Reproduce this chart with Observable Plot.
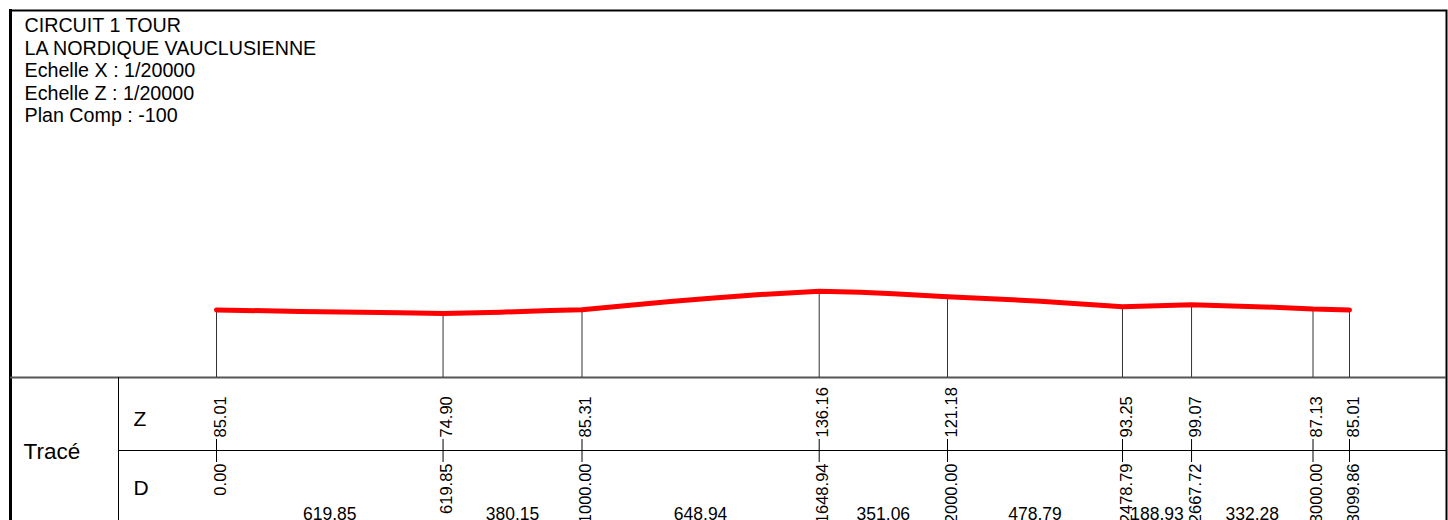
<!DOCTYPE html>
<html><head><meta charset="utf-8">
<script src="https://cdn.jsdelivr.net/npm/d3@7"></script>
<script src="https://cdn.jsdelivr.net/npm/@observablehq/plot@0.6"></script>
<style>html,body{margin:0;padding:0;background:#fff} svg{display:block}</style>
</head><body><div id="chart"></div>
<script>
// ---- data ----
const titleLines = ["CIRCUIT 1 TOUR", "LA NORDIQUE VAUCLUSIENNE", "Echelle X : 1/20000", "Echelle Z : 1/20000", "Plan Comp : -100"];
const planComp = -100;
const rowLabels = ["Z", "D"];
const groupLabel = "Tracé";
const stationD = [0, 619.85, 1000, 1648.94, 2000, 2478.79, 2667.72, 3000, 3099.86];
const stationZ = [85.01, 74.90, 85.31, 136.16, 121.18, 93.25, 99.07, 87.13, 85.01];
const stationDLabels = ["0.00", "619.85", "1000.00", "1648.94", "2000.00", "2478.79", "2667.72", "3000.00", "3099.86"];
const stationZLabels = ["85.01", "74.90", "85.31", "136.16", "121.18", "93.25", "99.07", "87.13", "85.01"];
const segmentLabels = ["619.85", "380.15", "648.94", "351.06", "478.79", "188.93", "332.28"];
// vertices of the red profile line (distance, altitude)
const profileD = [0, 230, 503, 619.85, 777, 914, 1000, 1124, 1242, 1352, 1488, 1648.94, 1762, 1852, 2000, 2254, 2478.79, 2667.72, 2892, 3000, 3099.86];
const profileZ = [85.01, 80.5, 77.0, 74.90, 78.7, 83.3, 85.31, 97.0, 107.9, 117.0, 127.1, 136.16, 133.4, 129.0, 121.18, 108.8, 93.25, 99.07, 92.3, 87.13, 85.01];

// ---- tables built from the arrays ----
const stations = stationD.map((d, i) => ({d, z: stationZ[i], zl: stationZLabels[i], dl: stationDLabels[i]}));
const profile = profileD.map((d, i) => ({d, z: profileZ[i]}));
const segments = segmentLabels.map((label, i) => ({mid: (stationD[i] + stationD[i + 1]) / 2, label}));

// ---- layout ----
const W = 1448, H = 520;
const xRange = [216, 1349];
const datumY = 377;                       // pixel row of the comparison plane
const kx = (xRange[1] - xRange[0]) / (stationD[stationD.length - 1] - stationD[0]);
const font = "Arial, 'Liberation Sans', Helvetica, sans-serif";

const chart = Plot.plot({
  width: W, height: H, margin: 0,
  x: {domain: [stationD[0], stationD[stationD.length - 1]], range: xRange, axis: null},
  y: {domain: [planComp, planComp + datumY / kx], range: [datumY, 0], axis: null},   // same scale as X (1/20000)
  style: {fontFamily: font, background: "#fff", color: "#000"},
  marks: [
    // outer frame
    Plot.frame({insetLeft: 10, insetTop: 10, insetRight: 2, insetBottom: -10, stroke: "#000", strokeWidth: 2}),
    Plot.ruleX([stationD[0]], {dx: 10 - xRange[0], stroke: "#000", strokeWidth: 3, insetTop: 9}),
    // title block
    Plot.text([titleLines.join("\n")], {frameAnchor: "top-left", dx: 24, dy: 16, lineAnchor: "top",
      textAnchor: "start", lineHeight: 1.14, fontSize: 19.7, fill: "#000"}),
    // comparison plane / table top
    Plot.ruleY([planComp], {insetLeft: 10, insetRight: 2, stroke: "#555", strokeWidth: 2}),
    // Z / D separator
    Plot.ruleY([planComp], {dy: 73, insetLeft: 118, insetRight: 2, stroke: "#000", strokeWidth: 1}),
    // column separator of the table
    Plot.ruleX([stationD[0]], {dx: 118 - xRange[0], insetTop: datumY, stroke: "#000", strokeWidth: 1}),
    // station verticals from the profile to the plane
    Plot.ruleX(stations, {x: "d", y1: "z", y2: () => planComp, stroke: "#333", strokeWidth: 1}),
    // profile line
    Plot.line(profile, {x: "d", y: "z", stroke: "#ff0000", strokeWidth: 5, strokeLinejoin: "round"}),
    // small station ticks between the Z and D labels
    Plot.ruleX(stations, {x: "d", insetTop: 439, insetBottom: H - 462, stroke: "#000", strokeWidth: 1}),
    // row labels
    Plot.text([groupLabel], {frameAnchor: "top-left", dx: 23, dy: 458, lineAnchor: "bottom", textAnchor: "start", fontSize: 22.5, fill: "#000"}),
    Plot.text([rowLabels[0]], {frameAnchor: "top-left", dx: 133, dy: 425, lineAnchor: "bottom", textAnchor: "start", fontSize: 21, fill: "#000"}),
    Plot.text([rowLabels[1]], {frameAnchor: "top-left", dx: 133, dy: 494, lineAnchor: "bottom", textAnchor: "start", fontSize: 21, fill: "#000"}),
    // Z values
    Plot.text(stations, {x: "d", text: "zl", frameAnchor: "bottom", dy: -(H - 437), dx: 4, rotate: -90,
      textAnchor: "start", lineAnchor: "middle", fontSize: 16.5, fill: "#000"}),
    // D values
    Plot.text(stations, {x: "d", text: "dl", frameAnchor: "bottom", dy: -(H - 463), dx: 4, rotate: -90,
      textAnchor: "end", lineAnchor: "middle", fontSize: 16.5, fill: "#000"}),
    // segment lengths
    Plot.text(segments, {x: "mid", text: "label", frameAnchor: "bottom", dy: -1, lineAnchor: "bottom",
      textAnchor: "middle", fontSize: 17.5, fill: "#000"})
  ]
});
document.getElementById("chart").appendChild(chart);
</script>
</body></html>
